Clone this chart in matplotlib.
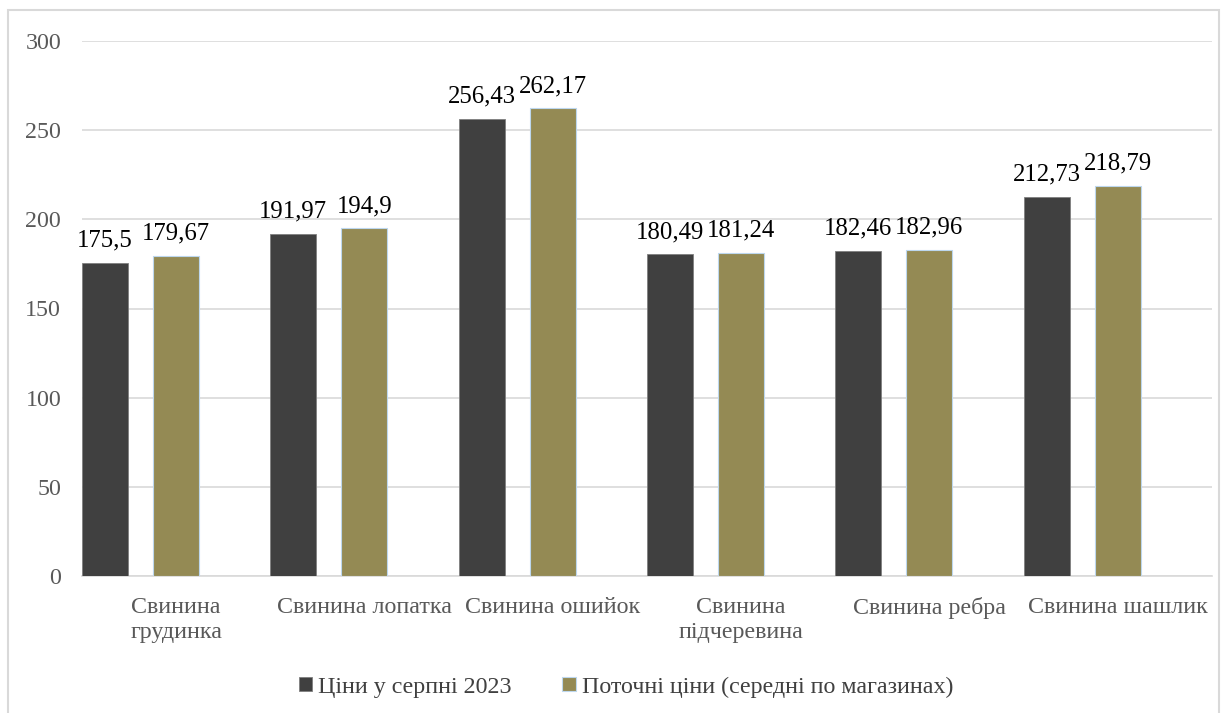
import matplotlib.pyplot as plt
from matplotlib.patches import Rectangle

categories = ["Свинина\nгрудинка", "Свинина лопатка", "Свинина ошийок",
              "Свинина\nпідчеревина", "Свинина ребра", "Свинина шашлик"]
aug_2023 = [175.5, 191.97, 256.43, 180.49, 182.46, 212.73]
current = [179.67, 194.9, 262.17, 181.24, 182.96, 218.79]
series_names = ["Ціни у серпні 2023", "Поточні ціни (середні по магазинах)"]

plt.rcParams['font.family'] = ['Liberation Serif', 'DejaVu Serif']

fig = plt.figure(figsize=(12.27, 7.13), dpi=100)
fig.patches.append(Rectangle((8 / 1227, -0.05), 1211 / 1227, 1.05 - 10 / 713,
                             transform=fig.transFigure, fill=False,
                             edgecolor='#D9D9D9', linewidth=1.5))

ax = fig.add_axes([82 / 1227, 1 - 576 / 713, 1130 / 1227, 535 / 713])

w = 46 / 188.3
off2 = 71 / 188.3
x = list(range(len(categories)))
b1 = ax.bar([i for i in x], aug_2023, width=w, align='edge', color='#404040',
            edgecolor='#7F7F7F', linewidth=0.6, label=series_names[0], zorder=3)
b2 = ax.bar([i + off2 for i in x], current, width=w, align='edge', color='#948A54',
            edgecolor='#BDD7EE', linewidth=0.8, label=series_names[1], zorder=3)

for bars, vals in ((b1, aug_2023), (b2, current)):
    for r, v in zip(bars, vals):
        ax.annotate(f"{v:g}".replace('.', ','), (r.get_x() + r.get_width() / 2, v),
                    xytext=(0, 8), textcoords='offset points', ha='center',
                    va='bottom', fontsize=17.8, color='black')

ax.set_xlim(0, 6)
ax.set_ylim(0, 300)
ax.set_yticks(range(0, 301, 50))
ax.set_xticks([i + 0.5 for i in x])
ax.set_xticklabels(categories, fontsize=17.3, color='#595959', linespacing=1.25)
ax.tick_params(axis='y', labelsize=17.3, labelcolor='#595959', length=0, pad=15)
ax.tick_params(axis='x', length=0, pad=15)
ax.grid(axis='y', color='#D9D9D9', linewidth=1.2, zorder=0)
for s in ('top', 'right', 'left'):
    ax.spines[s].set_visible(False)
ax.spines['bottom'].set_color('#D9D9D9')
ax.spines['bottom'].set_linewidth(1.2)

fig.legend(handles=[b1, b2], labels=series_names, loc='center',
           bbox_to_anchor=(626 / 1227, 1 - 687 / 713), ncol=2, frameon=False,
           fontsize=17.3, handlelength=0.55, handleheight=0.55, handletextpad=0.25,
           columnspacing=2.1, labelcolor='#404040')

fig.savefig("out.png", dpi=100)
